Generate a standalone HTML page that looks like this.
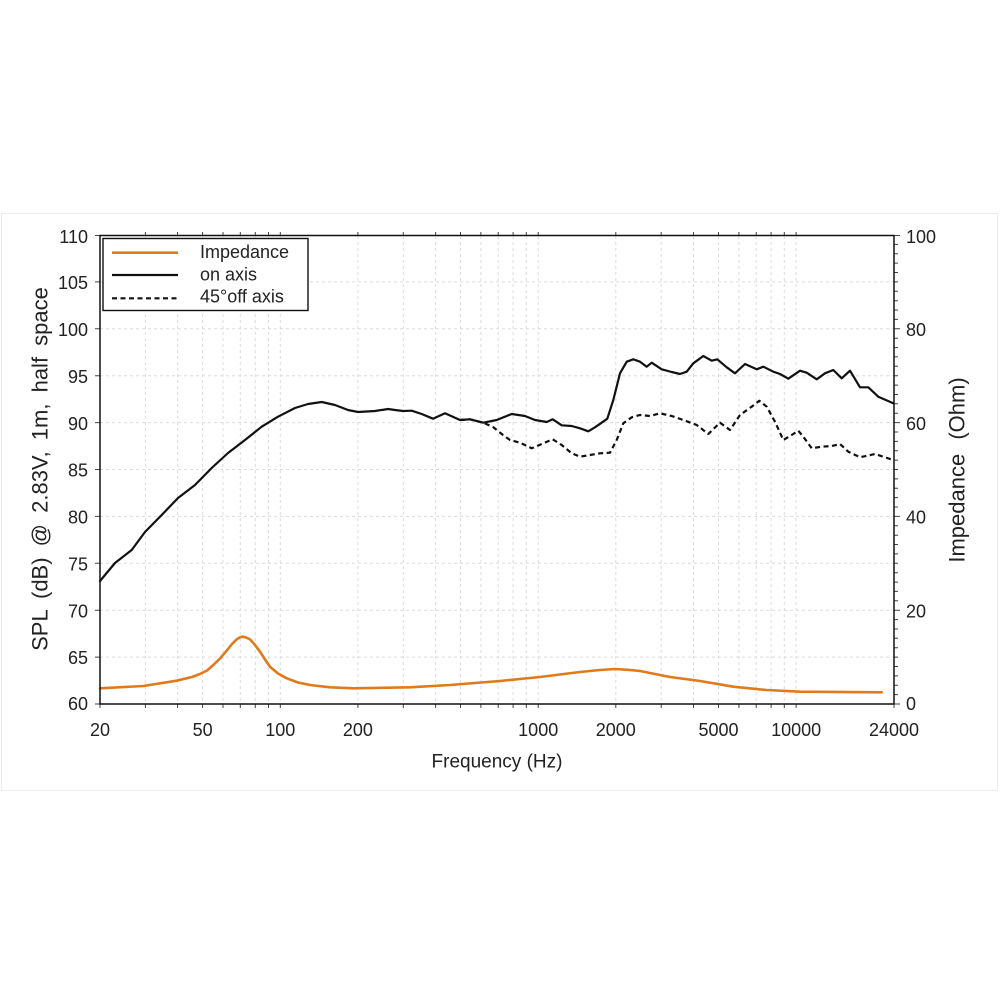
<!DOCTYPE html>
<html>
<head>
<meta charset="utf-8">
<style>
html,body{margin:0;padding:0;background:#fff;}
svg{display:block;}
text{font-family:"Liberation Sans",sans-serif;fill:#222;}
</style>
</head>
<body>
<svg width="1000" height="1000" viewBox="0 0 1000 1000" xmlns="http://www.w3.org/2000/svg">
<rect x="0" y="0" width="1000" height="1000" fill="#fff"/>
<rect x="1.5" y="213.5" width="996" height="577" fill="none" stroke="#ececec" stroke-width="1"/>

<!-- vertical grid -->
<g stroke="#dcdcdc" stroke-width="1" stroke-dasharray="3,3" fill="none">
<path d="M145.4 236V704M177.6 236V704M202.6 236V704M223 236V704M240.3 236V704M255.3 236V704M268.5 236V704M280.3 236V704M357.9 236V704M403.3 236V704M435.6 236V704M460.5 236V704M480.9 236V704M498.2 236V704M513.1 236V704M526.3 236V704M538.2 236V704M615.8 236V704M661.2 236V704M693.5 236V704M718.5 236V704M738.9 236V704M756.2 236V704M771.1 236V704M784.3 236V704M796.1 236V704"/>
<path d="M100 657.1H894M100 610.2H894M100 563.3H894M100 516.4H894M100 469.5H894M100 422.6H894M100 375.7H894M100 328.8H894M100 281.9H894"/>
</g>

<!-- ticks top/bottom -->
<g stroke="#444" stroke-width="1" fill="none">
<path d="M145.4 704v4M177.6 704v4M202.6 704v4M223 704v4M240.3 704v4M255.3 704v4M268.5 704v4M280.3 704v4M357.9 704v4M403.3 704v4M435.6 704v4M460.5 704v4M480.9 704v4M498.2 704v4M513.1 704v4M526.3 704v4M538.2 704v4M615.8 704v4M661.2 704v4M693.5 704v4M718.5 704v4M738.9 704v4M756.2 704v4M771.1 704v4M784.3 704v4M796.1 704v4M100 704v4M894 704v4"/>
<path d="M145.4 236v-4M177.6 236v-4M202.6 236v-4M223 236v-4M240.3 236v-4M255.3 236v-4M268.5 236v-4M280.3 236v-4M357.9 236v-4M403.3 236v-4M435.6 236v-4M460.5 236v-4M480.9 236v-4M498.2 236v-4M513.1 236v-4M526.3 236v-4M538.2 236v-4M615.8 236v-4M661.2 236v-4M693.5 236v-4M718.5 236v-4M738.9 236v-4M756.2 236v-4M771.1 236v-4M784.3 236v-4M796.1 236v-4"/>
<path d="M100 704h-5M100 657.1h-5M100 610.2h-5M100 563.3h-5M100 516.4h-5M100 469.5h-5M100 422.6h-5M100 375.7h-5M100 328.8h-5M100 281.9h-5M100 235.5h-5"/>
<path d="M894 704h6M894 610.2h6M894 516.4h6M894 422.6h6M894 328.8h6M894 235.5h6"/>
<path d="M894 694.6h4M894 685.2h4M894 675.9h4M894 666.5h4M894 657.1h4M894 647.7h4M894 638.3h4M894 629h4M894 619.6h4
M894 600.8h4M894 591.4h4M894 582.1h4M894 572.7h4M894 563.3h4M894 553.9h4M894 544.5h4M894 535.2h4M894 525.8h4
M894 507h4M894 497.6h4M894 488.3h4M894 478.9h4M894 469.5h4M894 460.1h4M894 450.7h4M894 441.4h4M894 432h4
M894 413.2h4M894 403.8h4M894 394.5h4M894 385.1h4M894 375.7h4M894 366.3h4M894 356.9h4M894 347.6h4M894 338.2h4
M894 319.4h4M894 310h4M894 300.7h4M894 291.3h4M894 281.9h4M894 272.5h4M894 263.1h4M894 253.8h4M894 244.4h4"/>
</g>

<!-- impedance -->
<polyline fill="none" stroke="#e07a1c" stroke-width="2.6" stroke-linejoin="round" stroke-linecap="round"
points="100,688.3 143.3,686 176.7,680.7 192,677 200,674 207,670.5 213.3,665 220,658.5 226.7,650.7 232,644 236.7,639.3 240,637.3 242.7,636.7 246,637.5 250,639.3 255,645 260,651.7 265,659.5 270,666.7 278,673.5 286.7,678.3 298,682.5 310,685 330,687.3 353.3,688.3 410,687.3 450,685 500,681 540,677 580,672 600,670 615,669 628,669.8 640,671 655,674 670,677 700,681 733.3,686.7 766.7,690 800,691.7 881.7,692.3"/>

<!-- on axis -->
<polyline fill="none" stroke="#111" stroke-width="2.2" stroke-linejoin="round" stroke-linecap="round"
points="100,581 115,563 131.7,550 145,532 161.7,515 178,498 195,485 211.7,468 228,453 245,440 261.7,426.7 278,416.7 295,408 308,404 321.7,402 335,405 348,410 358,412 375,411 388,409 395,410 403,411 411.7,410.7 421.7,414 433,418.7 445,413.3 460,420 470,419.3 483.3,422.7 496.7,420 511.7,414 525,416 535,420 546.7,422 552.7,419.3 561.7,425.3 571.7,426 580,428.3 588.3,431.3 595,427.3 601.7,422.7 607.3,418.7 613.3,400 620,373.3 626.7,361.7 633.3,359.3 640,361.7 646.7,366.7 651.7,362.7 661.7,369.3 671.7,372 680,374 686.7,371.7 693.3,363.3 703.3,356 711.7,360.7 717.3,359.3 726.7,367.3 735,373.3 745,364 756.7,369.3 763.3,366.7 773.3,371.7 780,374 788.3,378.7 800,370.7 806.7,372.7 816.7,379.3 825,373.3 833.3,370 841.7,378.3 850,370.7 860,387.3 868.3,387.3 878.3,396.7 893.3,403.3"/>

<!-- 45 off axis -->
<polyline fill="none" stroke="#111" stroke-width="2.2" stroke-dasharray="5,3.5" stroke-linejoin="round"
points="460,420 470,419.3 483.3,422.7 493,427 503,435 510,440 520,442.7 531.7,448.3 543.3,443.3 552.7,439.3 561.7,445 571.7,453.3 580,456.7 590,455 600,453.3 610,452.7 616.7,440 623.3,423.3 631.7,417.3 640,415 650,416 660,413.3 671.7,416 683.3,420 696.7,425 708.3,434 720,422.7 730,430 740,415 751.7,406.7 759.3,400.7 766.7,406.7 775,421.7 783.3,440 791.7,435 798.3,430.7 803.3,436.7 811.7,448.3 821.7,446.7 831.7,446 840,444 848.3,451.7 860,457.3 875,454 893.3,460"/>

<!-- axes frame -->
<rect x="100" y="235.5" width="794" height="468.5" fill="none" stroke="#111" stroke-width="1.5"/>

<!-- legend -->
<rect x="103" y="238.5" width="205" height="72" fill="#fff" stroke="#111" stroke-width="1.4"/>
<line x1="112" y1="252.7" x2="178" y2="252.7" stroke="#e07a1c" stroke-width="2.6"/>
<line x1="112" y1="275" x2="178" y2="275" stroke="#111" stroke-width="2.2"/>
<line x1="112" y1="298.3" x2="178" y2="298.3" stroke="#111" stroke-width="2.2" stroke-dasharray="5,3.5"/>
<text x="200" y="252" font-size="18" dominant-baseline="central">Impedance</text>
<text x="200" y="274.5" font-size="18" dominant-baseline="central">on axis</text>
<text x="200" y="296.5" font-size="18" dominant-baseline="central">45°off axis</text>

<!-- left tick labels -->
<g font-size="18" text-anchor="end">
<text x="88" y="237" dominant-baseline="central">110</text>
<text x="88" y="283" dominant-baseline="central">105</text>
<text x="88" y="330" dominant-baseline="central">100</text>
<text x="88" y="377" dominant-baseline="central">95</text>
<text x="88" y="424" dominant-baseline="central">90</text>
<text x="88" y="470.5" dominant-baseline="central">85</text>
<text x="88" y="517.5" dominant-baseline="central">80</text>
<text x="88" y="564.5" dominant-baseline="central">75</text>
<text x="88" y="611.5" dominant-baseline="central">70</text>
<text x="88" y="658" dominant-baseline="central">65</text>
<text x="88" y="704" dominant-baseline="central">60</text>
</g>

<!-- right tick labels -->
<g font-size="18" text-anchor="start">
<text x="906" y="237" dominant-baseline="central">100</text>
<text x="906" y="330" dominant-baseline="central">80</text>
<text x="906" y="424" dominant-baseline="central">60</text>
<text x="906" y="517.5" dominant-baseline="central">40</text>
<text x="906" y="611.5" dominant-baseline="central">20</text>
<text x="906" y="704" dominant-baseline="central">0</text>
</g>

<!-- bottom tick labels -->
<g font-size="18" text-anchor="middle">
<text x="100" y="730" dominant-baseline="central">20</text>
<text x="202.6" y="730" dominant-baseline="central">50</text>
<text x="280.3" y="730" dominant-baseline="central">100</text>
<text x="357.9" y="730" dominant-baseline="central">200</text>
<text x="538.2" y="730" dominant-baseline="central">1000</text>
<text x="615.8" y="730" dominant-baseline="central">2000</text>
<text x="718.5" y="730" dominant-baseline="central">5000</text>
<text x="796.1" y="730" dominant-baseline="central">10000</text>
<text x="894" y="730" dominant-baseline="central">24000</text>
</g>

<!-- axis labels -->
<text x="497" y="762" font-size="19" text-anchor="middle" dominant-baseline="central">Frequency (Hz)</text>
<text x="0" y="0" font-size="22" text-anchor="middle" dominant-baseline="central" word-spacing="5" transform="translate(40,469) rotate(-90)">SPL (dB) @ 2.83V, 1m, half space</text>
<text x="0" y="0" font-size="22" text-anchor="middle" dominant-baseline="central" word-spacing="8" transform="translate(957,470) rotate(-90)">Impedance (Ohm)</text>
</svg>
</body>
</html>
